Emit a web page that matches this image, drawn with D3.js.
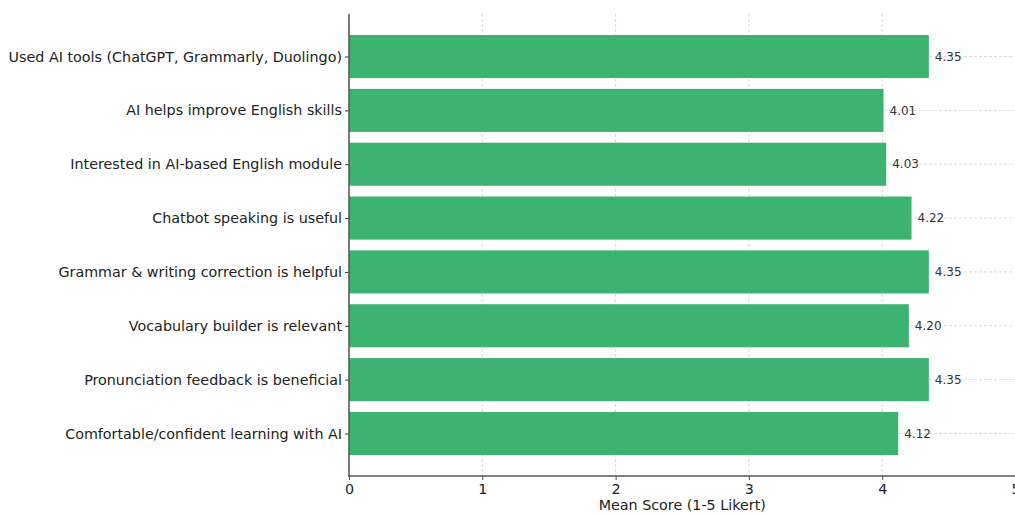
<!DOCTYPE html>
<html>
<head>
<meta charset="utf-8">
<script src="https://cdn.jsdelivr.net/npm/d3@7"></script>
<style>
  html, body { margin: 0; padding: 0; background: #fff; }
  svg { display: block; font-family: "DejaVu Sans", sans-serif; }
</style>
</head>
<body>
<svg id="chart" width="1015" height="514"></svg>
<script>
// Survey items (top to bottom) and their mean Likert scores
const categories = [
  "Used AI tools (ChatGPT, Grammarly, Duolingo)",
  "AI helps improve English skills",
  "Interested in AI-based English module",
  "Chatbot speaking is useful",
  "Grammar & writing correction is helpful",
  "Vocabulary builder is relevant",
  "Pronunciation feedback is beneficial",
  "Comfortable/confident learning with AI"
];
const meanScores = [4.35, 4.01, 4.03, 4.22, 4.35, 4.20, 4.35, 4.12];
const xTicks = [0, 1, 2, 3, 4, 5];
const xLabel = "Mean Score (1-5 Likert)";

const svg = d3.select("#chart");
const plotLeft = 349, plotRight = 1015.5, plotTop = 14, plotBottom = 476;
const labelSize = 14.3;

const x = d3.scaleLinear().domain([0, 5]).range([plotLeft, plotRight]);
// Category positions: index 0 at top, bars 0.8 wide, 5% margin like a default barh
const n = categories.length;
const pad = 0.05 * (n - 1 + 0.8);
const y = d3.scaleLinear().domain([-0.4 - pad, n - 1 + 0.4 + pad]).range([plotTop, plotBottom]);
const barH = y(0.4) - y(-0.4);

// Grid lines
const grid = svg.append("g").attr("stroke", "#cfcfcf").attr("stroke-width", 0.8)
  .attr("stroke-dasharray", "3,2");
grid.selectAll("line.gx").data(xTicks).join("line")
  .attr("x1", d => x(d)).attr("x2", d => x(d)).attr("y1", plotTop).attr("y2", plotBottom);
grid.selectAll("line.gy").data(categories).join("line")
  .attr("x1", plotLeft).attr("x2", plotRight).attr("y1", (d, i) => y(i)).attr("y2", (d, i) => y(i));

// Bars
svg.append("g").selectAll("rect").data(meanScores).join("rect")
  .attr("x", x(0))
  .attr("y", (d, i) => y(i) - barH / 2)
  .attr("width", d => x(d) - x(0))
  .attr("height", barH)
  .attr("fill", "#3cb371");

// Value labels
svg.append("g").selectAll("text").data(meanScores).join("text")
  .attr("x", d => x(d) + 6)
  .attr("y", (d, i) => y(i))
  .attr("dy", "0.35em")
  .attr("font-size", 12)
  .attr("fill", "#333")
  .text(d => d.toFixed(2));

// X axis
const xAxis = d3.axisBottom(x).tickValues(xTicks).tickFormat(d3.format("d")).tickSize(4).tickPadding(3.5);
const gx = svg.append("g").attr("transform", `translate(0,${plotBottom})`).call(xAxis);
gx.select(".domain").remove();
gx.selectAll(".tick line").attr("stroke", "#555");
gx.selectAll(".tick text").attr("font-size", labelSize).attr("fill", "#222")
  .attr("font-family", "DejaVu Sans, sans-serif");

// Y axis
const yAxis = d3.axisLeft(y).tickValues(d3.range(n)).tickFormat(i => categories[i]).tickSize(4).tickPadding(3);
const gy = svg.append("g").attr("transform", `translate(${plotLeft},0)`).call(yAxis);
gy.select(".domain").remove();
gy.selectAll(".tick line").attr("stroke", "#333");
gy.selectAll(".tick text").attr("font-size", labelSize).attr("fill", "#222")
  .attr("font-family", "DejaVu Sans, sans-serif");

// Spines
svg.append("line").attr("x1", plotLeft).attr("x2", plotLeft).attr("y1", plotTop).attr("y2", plotBottom + 0.75)
  .attr("stroke", "#555").attr("stroke-width", 1.5);
svg.append("line").attr("x1", plotLeft - 0.75).attr("x2", plotRight).attr("y1", plotBottom).attr("y2", plotBottom)
  .attr("stroke", "#555").attr("stroke-width", 1.5);

// Axis title
svg.append("text")
  .attr("x", (plotLeft + plotRight) / 2)
  .attr("y", 510)
  .attr("text-anchor", "middle")
  .attr("font-size", labelSize)
  .attr("fill", "#222")
  .text(xLabel);
</script>
</body>
</html>
